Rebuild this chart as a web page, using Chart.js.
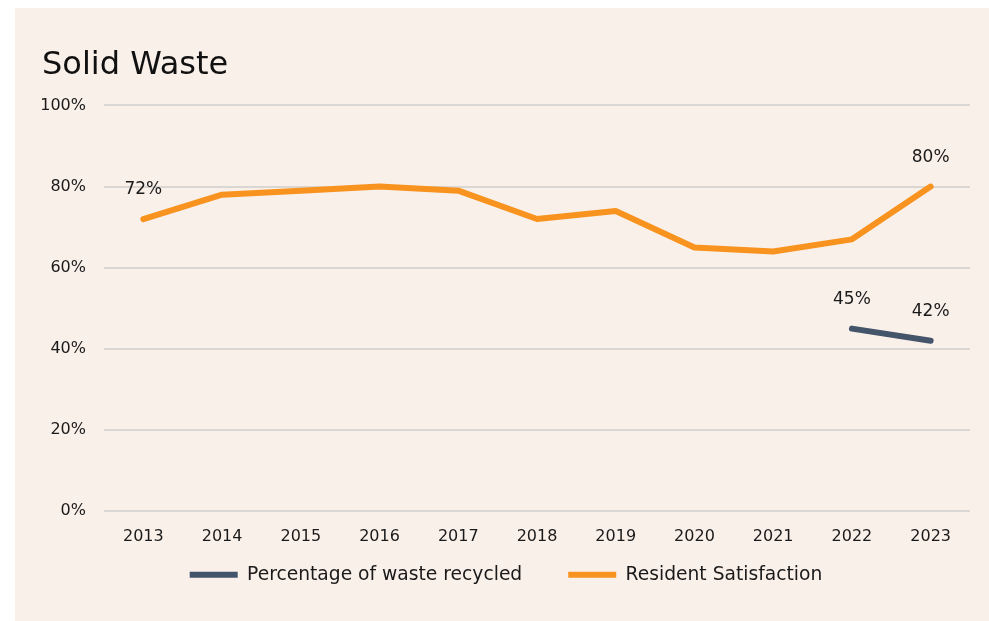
<!DOCTYPE html>
<html>
<head>
<meta charset="utf-8">
<script src="https://cdn.jsdelivr.net/npm/chart.js@4.4.1/dist/chart.umd.min.js"></script>
<style>
    html, body { margin: 0; padding: 0; background: #ffffff; }
    #panel {
        position: absolute;
        left: 15px; top: 8px;
        width: 974px; height: 613px;
        background: #faf0ea;
    }
</style>
</head>
<body>
<div id="panel"><canvas id="chartSolidWaste" width="974" height="613"></canvas></div>
<script>
const years = ['2013', '2014', '2015', '2016', '2017', '2018', '2019', '2020', '2021', '2022', '2023'];
const recycled = [null, null, null, null, null, null, null, null, null, 45, 42];
const satisfaction = [72, 78, 79, 80, 79, 72, 74, 65, 64, 67, 80];
const yTicks = [0, 20, 40, 60, 80, 100];
// which points carry a value label
const recycledLabelIdx = [9, 10];
const satisfactionLabelIdx = [0, 10];

const FONT = '"DejaVu Sans", sans-serif';

const valueLabels = {
    id: 'valueLabels',
    afterDatasetsDraw(chart) {
        const ctx = chart.ctx;
        const sets = [recycledLabelIdx, satisfactionLabelIdx];
        ctx.save();
        ctx.font = '17px ' + FONT;
        ctx.fillStyle = '#1a1a1a';
        ctx.textAlign = 'center';
        ctx.textBaseline = 'middle';
        sets.forEach(function (idxs, di) {
            const meta = chart.getDatasetMeta(di);
            idxs.forEach(function (i) {
                const pt = meta.data[i];
                const v = chart.data.datasets[di].data[i];
                ctx.fillText(v + '%', pt.x, pt.y - 29);
            });
        });
        ctx.restore();
    }
};

new Chart(document.getElementById('chartSolidWaste').getContext('2d'), {
    type: 'line',
    data: {
        labels: years,
        datasets: [
            {
                label: 'Percentage of waste recycled',
                data: recycled,
                borderColor: '#44546a',
                backgroundColor: '#44546a',
                borderWidth: 6,
                borderCapStyle: 'round',
                borderJoinStyle: 'round',
                pointRadius: 0,
                tension: 0
            },
            {
                label: 'Resident Satisfaction',
                data: satisfaction,
                borderColor: '#f7931e',
                backgroundColor: '#f7931e',
                borderWidth: 6,
                borderCapStyle: 'round',
                borderJoinStyle: 'round',
                pointRadius: 0,
                tension: 0
            }
        ]
    },
    options: {
        responsive: false,
        animation: false,
        layout: { padding: { left: 27, right: 19, top: 0, bottom: 27 } },
        plugins: {
            title: {
                display: true,
                text: 'Solid Waste',
                align: 'start',
                color: '#111111',
                font: { family: FONT, size: 32, weight: 'normal' },
                padding: { top: 38, bottom: 21 }
            },
            legend: {
                position: 'bottom',
                labels: {
                    usePointStyle: true,
                    pointStyle: 'line',
                    pointStyleWidth: 48,
                    color: '#1a1a1a',
                    font: { family: FONT, size: 18.7 },
                    padding: 46
                }
            },
            tooltip: { enabled: false }
        },
        scales: {
            x: {
                offset: true,
                // mirrored ticks are not clipped to the (short) axis box
                afterFit: function (scale) { scale.height = 8; },
                grid: { display: false },
                border: { display: false },
                ticks: { color: '#1a1a1a', font: { family: FONT, size: 16 }, mirror: true, padding: -35 }
            },
            y: {
                min: 0,
                max: 100,
                afterFit: function (scale) { scale.width = 62; },
                afterBuildTicks: function (scale) {
                    scale.ticks = yTicks.map(function (v) { return { value: v }; });
                },
                grid: { color: '#d9d6d3', lineWidth: 2, drawTicks: false },
                border: { display: false },
                ticks: {
                    color: '#1a1a1a',
                    font: { family: FONT, size: 16 },
                    padding: 18,
                    callback: function (v) { return v + '%'; }
                }
            }
        }
    },
    plugins: [valueLabels]
});
</script>
</body>
</html>
